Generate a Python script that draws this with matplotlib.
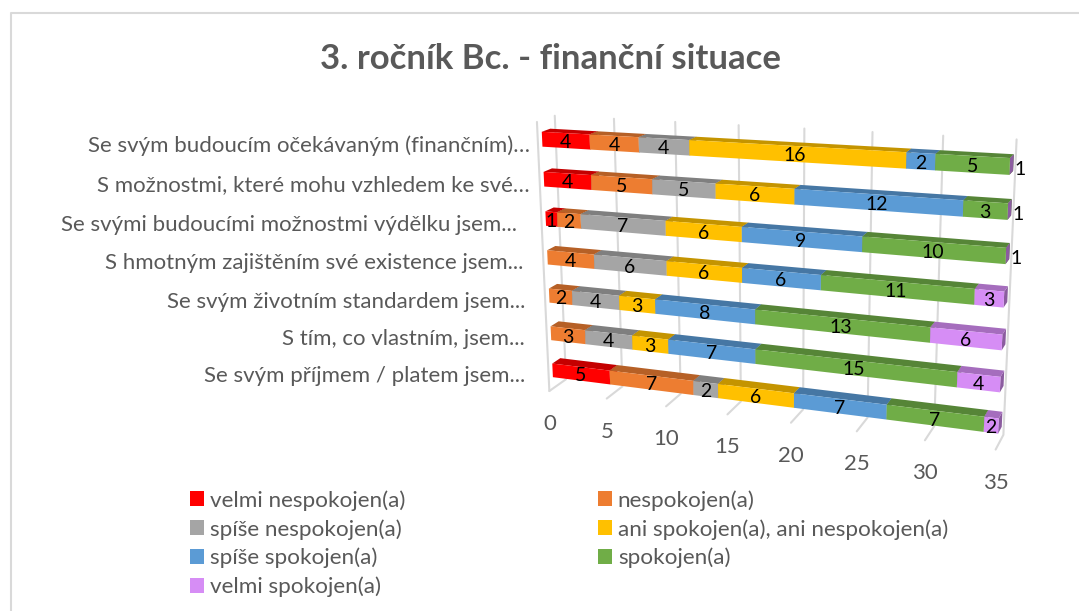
import numpy as np
import matplotlib
matplotlib.use("Agg")
import matplotlib.pyplot as plt
from matplotlib.colors import to_rgb
from matplotlib.patches import Patch, Polygon

# -------------------------------------
# 1. Data (rows from top to bottom)
# -------------------------------------
categories = [
    "Se svým budoucím očekávaným (finančním)…",
    "S možnostmi, které mohu vzhledem ke své…",
    "Se svými budoucími možnostmi výdělku jsem...",
    "S hmotným zajištěním své existence jsem...",
    "Se svým životním standardem jsem...",
    "S tím, co vlastním, jsem...",
    "Se svým příjmem / platem jsem...",
]
series_names = [
    "velmi nespokojen(a)",
    "nespokojen(a)",
    "spíše nespokojen(a)",
    "ani spokojen(a), ani nespokojen(a)",
    "spíše spokojen(a)",
    "spokojen(a)",
    "velmi spokojen(a)",
]
velmi_nespokojen = [4, 4, 1, 0, 0, 0, 5]
nespokojen = [4, 5, 2, 4, 2, 3, 7]
spise_nespokojen = [4, 5, 7, 6, 4, 4, 2]
ani_ani = [16, 6, 6, 6, 3, 3, 6]
spise_spokojen = [2, 12, 9, 6, 8, 7, 7]
spokojen = [5, 3, 10, 11, 13, 15, 7]
velmi_spokojen = [1, 1, 1, 3, 6, 4, 2]
all_series = [velmi_nespokojen, nespokojen, spise_nespokojen, ani_ani,
              spise_spokojen, spokojen, velmi_spokojen]
colors = ["#FF0000", "#ED7D31", "#A5A5A5", "#FFC000", "#5B9BD5", "#70AD47", "#D68DF5"]
axis_ticks = [0, 5, 10, 15, 20, 25, 30, 35]
axis_max = 35

# -------------------------------------
# 2. Perspective camera (value, row height, depth) -> pixels
# -------------------------------------
BAR_H = 0.37
Z_FLOOR, Z_TOP = -0.3, 6.65
D_WALL, D_FRONT = 1.6, -0.5

calib = [
    # bar corners, front face
    (0, 6 + BAR_H, 0, 543, 132), (0, 6, 0, 543, 147),
    (35, 6 + BAR_H, 0, 1010, 158), (35, 6, 0, 1010, 175),
    (0, BAR_H, 0, 553, 363), (0, 0, 0, 553, 377),
    (35, BAR_H, 0, 999, 416), (35, 0, 0, 999, 433),
    # bar corners, back edge of top face
    (0, 6 + BAR_H, 1, 547, 129), (35, 6 + BAR_H, 1, 1013, 155),
    (0, BAR_H, 1, 560, 358), (35, BAR_H, 1, 1002, 411),
    # back wall and floor
    (0, Z_FLOOR, D_WALL, 567, 379), (35, Z_FLOOR, D_WALL, 1003, 437),
    (0, Z_TOP, D_WALL, 556, 115), (35, Z_TOP, D_WALL, 1017, 139),
    (0, Z_FLOOR, D_FRONT, 548, 392), (35, Z_FLOOR, D_FRONT, 995, 451),
]
rows = []
for v, z, d, px, py in calib:
    px, py = px / 1000, py / 1000
    rows.append([v, z, d, 1, 0, 0, 0, 0, -px * v, -px * z, -px * d, -px])
    rows.append([0, 0, 0, 0, v, z, d, 1, -py * v, -py * z, -py * d, -py])
camera = np.linalg.svd(np.array(rows))[2][-1].reshape(3, 4)


def proj(v, z, d):
    x, y, w = camera @ np.array([v, z, d, 1.0])
    return 1000 * x / w, 1000 * y / w


def shade(color, factor):
    return tuple(c * factor for c in to_rgb(color))


# -------------------------------------
# 3. Plot
# -------------------------------------
fig = plt.figure(figsize=(10.79, 6.11), dpi=100)
plt.rcParams["font.family"] = ["Lato", "DejaVu Sans"]
ax = fig.add_axes([0, 0, 1, 1])
ax.set_xlim(0, 1079)
ax.set_ylim(611, 0)
ax.axis("off")

# chart frame, only left and top survive in the picture
ax.plot([11, 11, 1079], [611, 13, 13], color="#D9D9D9", lw=1.5, zorder=1)

fig.text(550 / 1079, 1 - 59 / 611, "3. ročník Bc. - finanční situace", fontsize=25,
         fontweight="bold", color="#595959", ha="center", va="center")

# gridlines on the back wall and on the floor
grid = dict(color="#D9D9D9", lw=1.5, zorder=2, solid_capstyle="round")
for t in axis_ticks:
    ax.plot(*zip(proj(t, Z_TOP, D_WALL), proj(t, Z_FLOOR, D_WALL), proj(t, Z_FLOOR, D_FRONT)), **grid)
    x, y = proj(t, Z_FLOOR, D_FRONT)
    ax.text(x, y + 33, str(t), fontsize=16, color="#595959", ha="center", va="center")
ax.plot(*zip(proj(0, Z_FLOOR, D_FRONT), proj(0, Z_TOP, D_FRONT)), **grid)

# stacked bars, clipped at the axis maximum like the original
label_right = [530, 530, 517, 523, 525, 525, 525]
for i, category in enumerate(categories):
    z = len(categories) - 1 - i
    ax.text(label_right[i], proj(0, z + BAR_H / 2, 0)[1] + 6, category, fontsize=16, color="#595959",
            ha="right", va="center")
    left = 0
    for values, color in zip(all_series, colors):
        val = values[i]
        if val == 0:
            continue
        x0, x1 = min(left, axis_max), min(left + val, axis_max)
        top_z = z + BAR_H
        front = [proj(x0, z, 0), proj(x1, z, 0), proj(x1, top_z, 0), proj(x0, top_z, 0)]
        top = [proj(x0, top_z, 0), proj(x1, top_z, 0), proj(x1, top_z, 1), proj(x0, top_z, 1)]
        side = [proj(x1, z, 0), proj(x1, top_z, 0), proj(x1, top_z, 1), proj(x1, z, 1)]
        ax.add_patch(Polygon(side, facecolor=shade(color, 0.65), edgecolor="none", zorder=3))
        ax.add_patch(Polygon(top, facecolor=shade(color, 0.77), edgecolor="none", zorder=3))
        ax.add_patch(Polygon(front, facecolor=color, edgecolor="none", zorder=4))
        # a segment that is fully past the maximum keeps its label just outside the bar
        mid = (x0 + x1) / 2 if x1 > x0 else axis_max + 0.7
        lx, ly = proj(mid, z + BAR_H / 2, 0)
        ax.text(lx, ly + 2, str(val), fontsize=14, color="black", ha="center", va="center", zorder=6)
        left += val

# legend: two columns filled row by row
handles = [Patch(facecolor=c, edgecolor="none", label=n) for c, n in zip(colors, series_names)]
legend_opts = dict(frameon=False, fontsize=16.2, labelcolor="#595959", loc="upper left",
                   handlelength=0.63, handleheight=0.63, handletextpad=0.25, labelspacing=0.37,
                   borderpad=0, borderaxespad=0)
fig.legend(handles=handles[0::2], bbox_to_anchor=(190 / 1079, 1 - 490 / 611), **legend_opts)
fig.legend(handles=handles[1::2], bbox_to_anchor=(598 / 1079, 1 - 490 / 611), **legend_opts)

fig.savefig("out.png", dpi=100)
